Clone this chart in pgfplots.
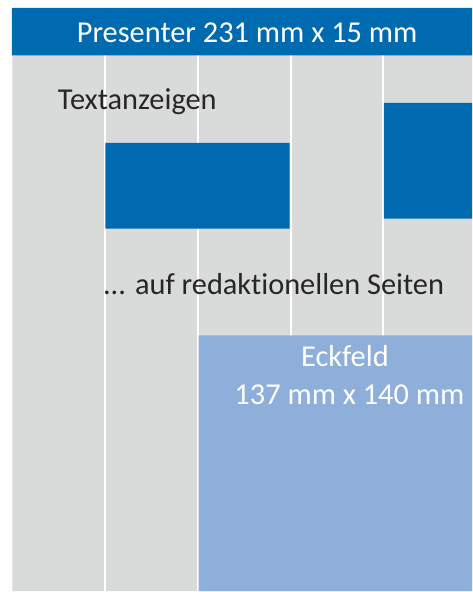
\documentclass[border=0pt]{standalone}
\usepackage{pgfplots}
\pgfplotsset{compat=1.18}
\usepackage{fontspec}
\setmainfont{Carlito}[Ligatures={NoCommon}]
\definecolor{hblue}{RGB}{0,106,176}
\definecolor{lblue}{RGB}{142,175,218}
\definecolor{pgray}{RGB}{217,218,218}
\definecolor{tdark}{RGB}{38,38,38}
\newcommand{\bigtxt}{\fontsize{30.4bp}{34bp}\selectfont}
\begin{document}
\begin{tikzpicture}
\begin{axis}[
  width=473bp, height=592bp, scale only axis,
  xmin=0, xmax=473, ymin=0, ymax=592, y dir=reverse,
  axis lines=none, ticks=none, clip=false,
]
% page
\addplot[fill=white, draw=none] coordinates {(0,0)(473,0)(473,592)(0,592)(0,0)};
% page area
\addplot[fill=pgray, draw=none] coordinates {(12.5,55)(473,55)(473,592)(12.5,592)(12.5,55)};
% column separators
\addplot[white, line width=2bp] coordinates {(105,55)(105,592)};
\addplot[white, line width=2bp] coordinates {(198,55)(198,592)};
\addplot[white, line width=2bp] coordinates {(291,55)(291,592)};
\addplot[white, line width=2bp] coordinates {(384,55)(384,592)};
% ads
\addplot[fill=hblue, draw=none] coordinates {(105.5,143)(290,143)(290,229)(105.5,229)(105.5,143)};
\addplot[fill=hblue, draw=none] coordinates {(384.5,103)(473,103)(473,219)(384.5,219)(384.5,103)};
\addplot[fill=lblue, draw=none] coordinates {(199,336)(473,336)(473,592)(199,592)(199,336)};
% header
\addplot[fill=hblue, draw=none] coordinates {(12,8)(473,8)(473,55.5)(12,55.5)(12,8)};
% texts
\node[anchor=base, inner sep=0pt, text=white, font=\bigtxt] at (axis cs:247.5,43) {Presenter 231 mm x 15 mm};
\node[anchor=base, inner sep=0pt, text=tdark, font=\bigtxt] at (axis cs:137.5,110) {Textanzeigen};
\node[anchor=base, inner sep=0pt, text=tdark, font=\bigtxt] at (axis cs:274,295) {.{}.{}. auf redaktionellen Seiten};
\node[anchor=base, inner sep=0pt, text=white, font=\bigtxt] at (axis cs:345.5,367) {Eckfeld};
\node[anchor=base, inner sep=0pt, text=white, font=\bigtxt] at (axis cs:350,405) {137 mm x 140 mm};
\end{axis}
\end{tikzpicture}
\end{document}
